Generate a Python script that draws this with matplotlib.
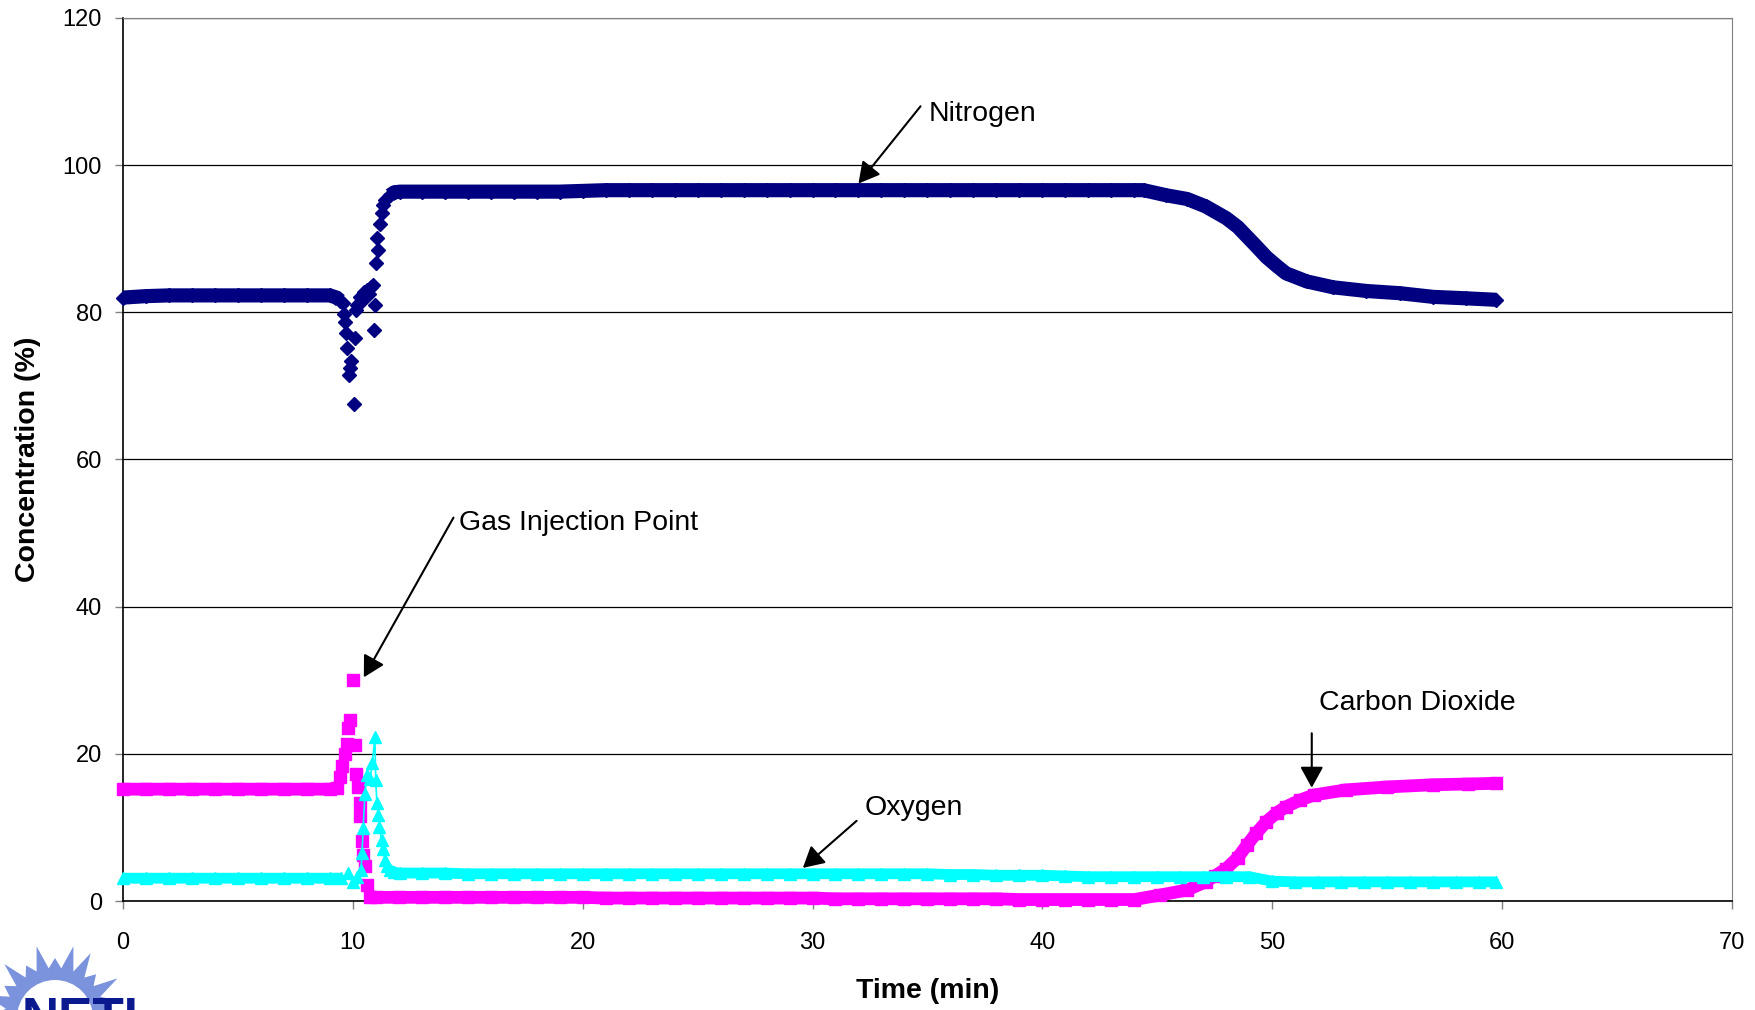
import numpy as np
import matplotlib.pyplot as plt
from matplotlib.patches import Polygon, Circle

plt.rcParams['font.family'] = ['Liberation Sans', 'DejaVu Sans']

# Nitrogen (navy diamonds)
n_time = [0, 1, 2, 3, 4, 5, 6, 7, 8, 9,
          9.3, 9.45, 9.58, 9.62, 9.66, 9.7, 9.76, 9.84, 9.87, 9.92,
          10.06, 10.09, 10.12, 10.2, 10.31, 10.4, 10.5, 10.6, 10.7, 10.8,
          10.89, 10.92, 10.95, 11.03, 11.06, 11.11, 11.18, 11.25, 11.3, 11.4,
          11.61, 11.8, 12.05,
          13, 14, 15, 16, 17, 18, 19, 20,
          21, 22, 23, 24, 25, 26, 27, 28, 29, 30, 31, 32,
          33, 34, 35, 36, 37, 38, 39, 40, 41, 42, 43, 44,
          44.4, 45.4, 46.3, 47.1, 48.0, 48.5, 48.9, 49.3, 49.75, 50.2,
          50.6, 51.5, 52.65, 54.1, 55.55, 57.0, 58.45, 59.75]
n_val = [82.0, 82.2, 82.3, 82.3, 82.3, 82.3, 82.3, 82.3, 82.3, 82.3,
         82.0, 81.6, 81.2, 79.8, 78.7, 77.2, 75.1, 71.5, 72.4, 73.4,
         67.6, 76.5, 80.3, 81.0, 82.1, 81.5, 82.8, 83.0, 82.5, 83.5,
         83.7, 77.6, 81.0, 86.7, 90.1, 88.5, 92.0, 93.5, 94.6, 95.3,
         95.9, 96.3, 96.4,
         96.4, 96.4, 96.4, 96.4, 96.4, 96.4, 96.4, 96.5,
         96.6, 96.6, 96.6, 96.6, 96.6, 96.6, 96.6, 96.6, 96.6, 96.6, 96.6, 96.6,
         96.6, 96.6, 96.6, 96.6, 96.6, 96.6, 96.6, 96.6, 96.6, 96.6, 96.6, 96.6,
         96.6, 95.9, 95.4, 94.4, 92.8, 91.6, 90.3, 89.0, 87.5, 86.3,
         85.3, 84.2, 83.4, 82.9, 82.6, 82.1, 81.9, 81.7]

# Oxygen (cyan triangles)
o_time = [0, 1, 2, 3, 4, 5, 6, 7, 8, 9,
          9.5, 9.8, 10.0, 10.2, 10.36, 10.4, 10.45, 10.53, 10.6, 10.75,
          10.85, 10.96, 11.0, 11.05, 11.11, 11.15, 11.25, 11.32, 11.4, 11.5,
          11.61, 11.8, 12.05,
          13, 14, 15, 16, 17, 18, 19, 20, 21, 22, 23, 24, 25, 26, 27, 28,
          29, 30, 31, 32, 33, 34, 35, 36, 37, 38, 39, 40, 41, 42, 43, 44,
          45, 46, 47, 48, 49, 50, 51, 52, 53, 54, 55, 56, 57, 58, 59, 59.75]
o_val = [3.1, 3.1, 3.1, 3.1, 3.1, 3.1, 3.1, 3.1, 3.1, 3.1,
         3.1, 3.75, 2.6, 3.2, 4.2, 6.5, 9.9, 14.6, 17.1, 16.6,
         18.7, 22.3, 16.4, 13.3, 11.7, 10.1, 8.3, 7.1, 5.6, 4.8,
         4.2, 3.9, 3.8,
         3.8, 3.8, 3.7, 3.7, 3.7, 3.7, 3.7, 3.7, 3.7, 3.7, 3.7, 3.7, 3.7, 3.7, 3.7, 3.7,
         3.7, 3.7, 3.7, 3.7, 3.7, 3.7, 3.7, 3.6, 3.6, 3.5, 3.5, 3.5, 3.4, 3.3, 3.3, 3.3,
         3.3, 3.3, 3.3, 3.3, 3.3, 2.7, 2.6, 2.6, 2.6, 2.6, 2.6, 2.6, 2.6, 2.6, 2.6, 2.6]

# Carbon dioxide (magenta squares)
c_time = [0, 1, 2, 3, 4, 5, 6, 7, 8, 9,
          9.3, 9.44, 9.55, 9.65, 9.73, 9.80, 9.87, 10.02, 10.09, 10.12,
          10.23, 10.31, 10.33, 10.38, 10.45, 10.53, 10.60, 10.74,
          11, 12, 13, 14, 15, 16, 17, 18, 19, 20,
          21, 22, 23, 24, 25, 26, 27, 28, 29, 30,
          31, 32, 33, 34, 35, 36, 37, 38, 39, 40, 41, 42, 43, 44,
          45.1, 46.3, 47.1, 47.5, 48.0, 48.5, 48.9, 49.3, 49.75, 50.2,
          50.6, 51.2, 51.8, 53.2, 55.0, 57.0, 58.5, 59.75]
c_val = [15.2, 15.2, 15.2, 15.2, 15.2, 15.2, 15.2, 15.2, 15.2, 15.2,
         15.4, 16.9, 18.3, 20.0, 21.4, 23.5, 24.6, 30.0, 21.2, 17.3,
         15.5, 13.3, 11.5, 8.1, 6.2, 4.7, 2.2, 0.6,
         0.5, 0.5, 0.5, 0.5, 0.5, 0.5, 0.5, 0.5, 0.5, 0.5,
         0.4, 0.4, 0.4, 0.4, 0.4, 0.4, 0.4, 0.4, 0.4, 0.4,
         0.3, 0.3, 0.3, 0.3, 0.3, 0.3, 0.3, 0.3, 0.2, 0.2, 0.2, 0.2, 0.2, 0.2,
         0.8, 1.5, 2.6, 3.4, 4.4, 5.9, 7.6, 9.2, 10.8, 12.0,
         12.8, 13.7, 14.4, 15.1, 15.5, 15.8, 15.9, 16.0]

x_ticks = [0, 10, 20, 30, 40, 50, 60, 70]
y_ticks = [0, 20, 40, 60, 80, 100, 120]

NAVY = '#000080'
MAGENTA = '#FF00FF'
CYAN = '#00FFFF'


def band(t, v, lo, hi):
    # thick line for the smooth stretches, broken where points scatter
    t = np.array(t)
    v = np.array(v, dtype=float)
    return t, np.where((t > lo) & (t < hi), np.nan, v)


fig = plt.figure(figsize=(17.56, 10.10), dpi=100)
ax = fig.add_axes([0.0700, 0.1079, 0.9163, 0.8743])

bt, bv = band(n_time, n_val, 9.45, 11.6)
ax.plot(bt, bv, color=NAVY, lw=10.2, solid_capstyle='butt', zorder=3, clip_on=False)
ax.plot(n_time, n_val, ls='none', marker='D', ms=7.0, color=NAVY, zorder=3, clip_on=False)

bt, bv = band(c_time, c_val, 9.3, 10.74)
ax.plot(bt, bv, color=MAGENTA, lw=9.2, solid_capstyle='butt', zorder=4, clip_on=False)
ax.plot(c_time, c_val, ls='none', marker='s', ms=8.8, color=MAGENTA, zorder=4, clip_on=False)

bt, bv = band(o_time, o_val, 9.5, 11.6)
ax.plot(bt, bv, color=CYAN, lw=7.8, solid_capstyle='butt', zorder=5, clip_on=False)
ax.plot(o_time, o_val, lw=1.2, marker='^', ms=8.2, color=CYAN, zorder=5, clip_on=False)

ax.set_xlim(0, 70)
ax.set_ylim(0, 120)
ax.set_xticks(x_ticks)
ax.set_yticks(y_ticks)
ax.yaxis.grid(True, color='black', lw=0.9)
ax.set_axisbelow(True)
ax.tick_params(axis='x', direction='out', length=6, width=1, color='#808080',
               pad=16, labelsize=17)
ax.tick_params(axis='y', direction='out', length=6, width=1, color='#808080',
               pad=9, labelsize=17)
for s in ['top', 'right']:
    ax.spines[s].set_color('#808080')
for s in ['left', 'bottom']:
    ax.spines[s].set_color('black')
    ax.spines[s].set_linewidth(1.2)

ax.set_xlabel('Time (min)', fontsize=20.5, fontweight='bold', va='center')
ax.xaxis.set_label_coords(0.5, -0.102)
ax.set_ylabel('Concentration (%)', fontsize=20.5, fontweight='bold', va='center')
ax.yaxis.set_label_coords(-0.059, 0.5)

arrow = dict(arrowstyle='-|>,head_length=0.4,head_width=0.22', mutation_scale=32,
             color='black', lw=1.5, shrinkA=0, shrinkB=0)
ax.annotate('', xy=(32.0, 97.5), xytext=(34.7, 108.0), arrowprops=arrow)
ax.text(35.07, 106.9, 'Nitrogen', fontsize=20.5, va='center', ha='left')
ax.annotate('', xy=(10.48, 30.4), xytext=(14.38, 52.1), arrowprops=arrow)
ax.text(14.62, 51.4, 'Gas Injection Point', fontsize=20.5, va='center', ha='left')
ax.annotate('', xy=(29.58, 4.5), xytext=(31.92, 10.9), arrowprops=arrow)
ax.text(32.26, 12.6, 'Oxygen', fontsize=20.5, va='center', ha='left')
ax.annotate('', xy=(51.72, 15.4), xytext=(51.72, 22.8), arrowprops=arrow)
ax.text(52.04, 26.9, 'Carbon Dioxide', fontsize=20.5, va='center', ha='left')

# NETL logo, cut off by the bottom edge of the page
logo = fig.add_axes([0, 0, 160 / 1756, 90 / 1010])
logo.set_xlim(0, 160)
logo.set_ylim(1010, 920)
logo.axis('off')
cx, cy = 55, 1018
pts = []
for k in range(50):
    ang = np.deg2rad(75.6 + 7.2 * k)
    r = 50 if k % 2 else (74 if k % 4 == 0 else 60)
    pts.append((cx + r * np.cos(ang), cy - r * np.sin(ang)))
logo.add_patch(Polygon(pts, closed=True, color='#7B93DC', lw=0))
logo.add_patch(Circle((cx, cy), 38, color='white', lw=0))
logo.text(22, 1034, 'NETL', fontsize=37, fontweight='bold', color='#0B1B8F',
          va='baseline', ha='left', clip_on=True)

fig.savefig('out.png', dpi=100)
